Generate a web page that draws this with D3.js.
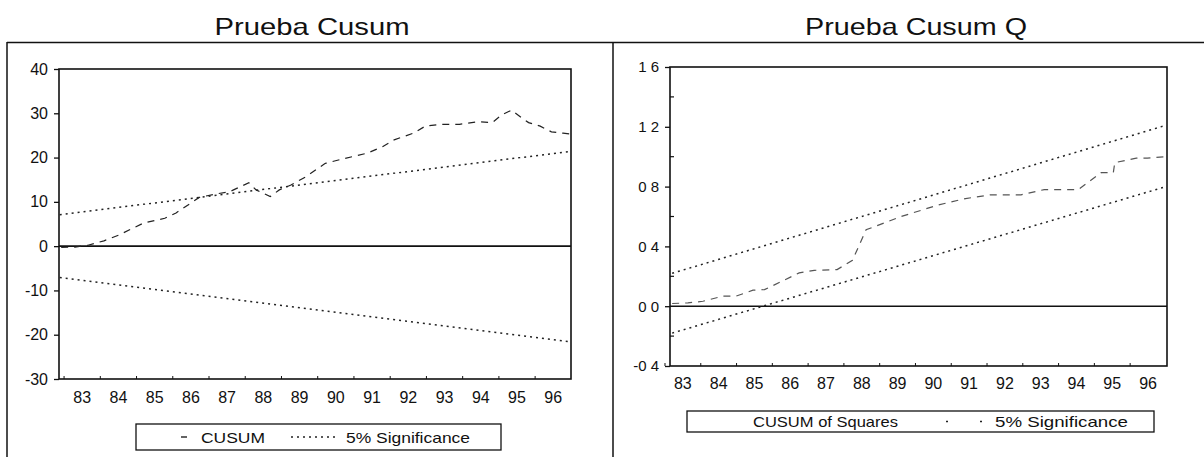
<!DOCTYPE html>
<html>
  <head>
    <title>Prueba Cusum</title>
    <script src="https://d3js.org/d3.v7.min.js"></script>
    <style>
      body { margin: 0; background: #fff; }
      svg text { font-family: "Liberation Sans", Arial, sans-serif; fill: #111; }
    </style>
  </head>
  <body>
    <div id="chart"></div>

    <script>
      // tick labels
      const firstYear = 1983;
      const yearLabels = ["83","84","85","86","87","88","89","90","91","92","93","94","95","96"];
      const cusumTicks = [40, 30, 20, 10, 0, -10, -20, -30];
      const sqTicks = [1.6, 1.2, 0.8, 0.4, 0.0, -0.4];
      const sqTickText = ["1 6", "1 2", "0 8", "0 4", "0 0", "-0 4"];

      // CUSUM (left)
      const cusumT = [1982.92, 1983.3, 1983.66, 1984.1, 1984.51, 1985.19, 1985.78, 1986.09, 1986.73, 1987.2, 1987.57,
                      1988.1, 1988.3, 1988.69, 1988.94, 1989.26, 1989.68, 1990.21, 1990.74, 1991.37, 1991.8,
                      1992.11, 1992.64, 1992.97, 1993.38, 1993.91, 1994.43, 1994.82, 1995.07, 1995.35, 1995.61,
                      1995.82, 1996.14, 1996.45, 1996.77, 1996.98];
      const cusumV = [-0.3, -0.2, 0.2, 1.2, 2.5, 5.2, 6.3, 7.5, 11.0, 11.8, 12.3,
                      14.3, 12.7, 11.2, 12.7, 13.8, 15.7, 18.7, 19.8, 21.0, 22.5,
                      24.0, 25.5, 27.1, 27.5, 27.5, 28.1, 27.9, 29.6, 30.7, 29.1,
                      27.9, 27.1, 25.8, 25.5, 25.3];
      const cusumBoundT = [1982.88, 1996.98];
      const cusumUpper = [7.1, 21.4];
      const cusumLower = [-7.1, -21.6];

      // CUSUM of squares (right)
      const sqT = [1983.2, 1983.64, 1984.06, 1984.61, 1984.98, 1985.46, 1985.78, 1986.27, 1986.75, 1987.17, 1987.81,
                   1988.24, 1988.62, 1989.6, 1990.65, 1991.4, 1992.09, 1992.95, 1993.6, 1994.55, 1995.19,
                   1995.53, 1995.57, 1996.17, 1996.48, 1997.0];
      const sqV = [0.018, 0.022, 0.033, 0.067, 0.067, 0.107, 0.111, 0.167, 0.223, 0.24, 0.245,
                   0.307, 0.511, 0.6, 0.678, 0.72, 0.745, 0.745, 0.78, 0.78, 0.893,
                   0.893, 0.96, 0.99, 0.99, 1.0];
      const sqBoundT = [1983.2, 1997.0];
      const sqUpper = [0.22, 1.21];
      const sqLower = [-0.18, 0.80];

      const W = 1204, H = 457;
      const svg = d3.select("#chart").append("svg").attr("width", W).attr("height", H);

      // outer frame
      svg.append("line").attr("x1", 7).attr("x2", W).attr("y1", 42.5).attr("y2", 42.5)
        .attr("stroke", "#111").attr("stroke-width", 1.5);
      svg.append("line").attr("x1", 7).attr("x2", 7).attr("y1", 42).attr("y2", H)
        .attr("stroke", "#111").attr("stroke-width", 1.5);
      svg.append("line").attr("x1", 613).attr("x2", 613).attr("y1", 42).attr("y2", H)
        .attr("stroke", "#111").attr("stroke-width", 1.5);

      function panel(o) {
        const x = d3.scaleLinear().domain(o.xDomain).range([o.left, o.right]);
        const y = d3.scaleLinear().domain(o.yDomain).range([o.bottom, o.top]);
        const g = svg.append("g");

        // title
        g.append("text").attr("x", o.titleX).attr("y", 35).attr("text-anchor", "middle")
          .attr("font-size", 24).attr("textLength", o.titleW).attr("lengthAdjust", "spacingAndGlyphs")
          .text(o.title);

        // y axis
        const yAxis = d3.axisLeft(y).tickValues(o.yTicks).tickSize(5).tickPadding(6)
          .tickFormat((d, i) => o.yText[i]);
        const ya = g.append("g").attr("transform", `translate(${o.left},0)`).call(yAxis);
        ya.select(".domain").remove();
        ya.selectAll("line").attr("stroke", "#111").attr("stroke-width", 1.3);
        ya.selectAll("text").attr("font-size", o.yFont).attr("fill", "#111")
          .style("font-family", '"Liberation Sans", Arial, sans-serif');

        if (o.minor) {
          g.selectAll(".minor").data(o.minor).enter().append("line")
            .attr("x1", o.left).attr("x2", o.left + 4)
            .attr("y1", d => y(d)).attr("y2", d => y(d))
            .attr("stroke", "#111").attr("stroke-width", 1.2);
        }

        // x labels, centred in each year
        g.selectAll(".xl").data(yearLabels).enter().append("text")
          .attr("x", (d, i) => x(firstYear + i + 0.5)).attr("y", o.xLabelY)
          .attr("text-anchor", "middle").attr("font-size", 16).text(d => d);
        g.selectAll(".xt").data(d3.range(firstYear, firstYear + 14)).enter().append("line")
          .attr("x1", d => x(d)).attr("x2", d => x(d))
          .attr("y1", o.bottom).attr("y2", o.bottom - 3)
          .attr("stroke", "#111").attr("stroke-width", 1);

        // zero line
        g.append("line").attr("x1", o.left).attr("x2", o.right)
          .attr("y1", y(0)).attr("y2", y(0)).attr("stroke", "#111").attr("stroke-width", 1.6);

        const line = d3.line().x(d => x(d[0])).y(d => y(d[1]));
        const dotted = [o.boundT.map((t, i) => [t, o.upper[i]]), o.boundT.map((t, i) => [t, o.lower[i]])];
        dotted.forEach(pts => {
          g.append("path").attr("d", line(pts)).attr("fill", "none")
            .attr("stroke", "#222").attr("stroke-width", 1.5).attr("stroke-dasharray", "2,4");
        });
        g.append("path").attr("d", line(o.seriesT.map((t, i) => [t, o.seriesV[i]])))
          .attr("fill", "none").attr("stroke", o.seriesColor).attr("stroke-width", 1.2)
          .attr("stroke-dasharray", "7,6");

        // plot box
        g.append("rect").attr("x", o.left).attr("y", o.top)
          .attr("width", o.right - o.left).attr("height", o.bottom - o.top)
          .attr("fill", "none").attr("stroke", "#111").attr("stroke-width", 1.6);

        // legend
        const L = o.legend;
        g.append("rect").attr("x", L.x).attr("y", L.y).attr("width", L.w).attr("height", L.h)
          .attr("fill", "none").attr("stroke", "#111").attr("stroke-width", 1.3);
        L.items.forEach(it => {
          if (it.sample) {
            g.append("line").attr("x1", it.sample[0]).attr("x2", it.sample[1])
              .attr("y1", L.y + L.h / 2).attr("y2", L.y + L.h / 2)
              .attr("stroke", "#222").attr("stroke-width", 1.4).attr("stroke-dasharray", it.dash);
          }
          g.append("text").attr("x", it.x).attr("y", L.y + L.h / 2 + 5.5)
            .attr("font-size", 15).attr("textLength", it.w).attr("lengthAdjust", "spacingAndGlyphs")
            .text(it.label);
        });
      }

      panel({
        title: "Prueba Cusum", titleX: 312, titleW: 195,
        left: 59, right: 571, top: 69, bottom: 379,
        xDomain: [1982.86, 1996.99], yDomain: [-30, 40],
        yTicks: cusumTicks, yText: cusumTicks.map(String), yFont: 16,
        xLabelY: 403,
        seriesT: cusumT, seriesV: cusumV, seriesColor: "#222",
        boundT: cusumBoundT, upper: cusumUpper, lower: cusumLower,
        legend: { x: 136, y: 424, w: 365, h: 26, items: [
          { label: "CUSUM", x: 201, w: 64, sample: [181, 187], dash: "6,0" },
          { label: "5% Significance", x: 346, w: 124, sample: [291, 337], dash: "2,4" }
        ]}
      });

      panel({
        title: "Prueba Cusum Q", titleX: 916, titleW: 222,
        left: 670, right: 1167, top: 67, bottom: 366,
        xDomain: [1983.14, 1997.03], yDomain: [-0.4, 1.6],
        yTicks: sqTicks, yText: sqTickText, yFont: 15, minor: [1.4, 1.0, 0.6, 0.2, -0.2],
        xLabelY: 389,
        seriesT: sqT, seriesV: sqV, seriesColor: "#555",
        boundT: sqBoundT, upper: sqUpper, lower: sqLower,
        legend: { x: 687, y: 411, w: 467, h: 21, items: [
          { label: "CUSUM of Squares", x: 753, w: 145 },
          { label: "5% Significance", x: 995, w: 133, sample: [946, 984], dash: "2,32" }
        ]}
      });
    </script>
  </body>
</html>
